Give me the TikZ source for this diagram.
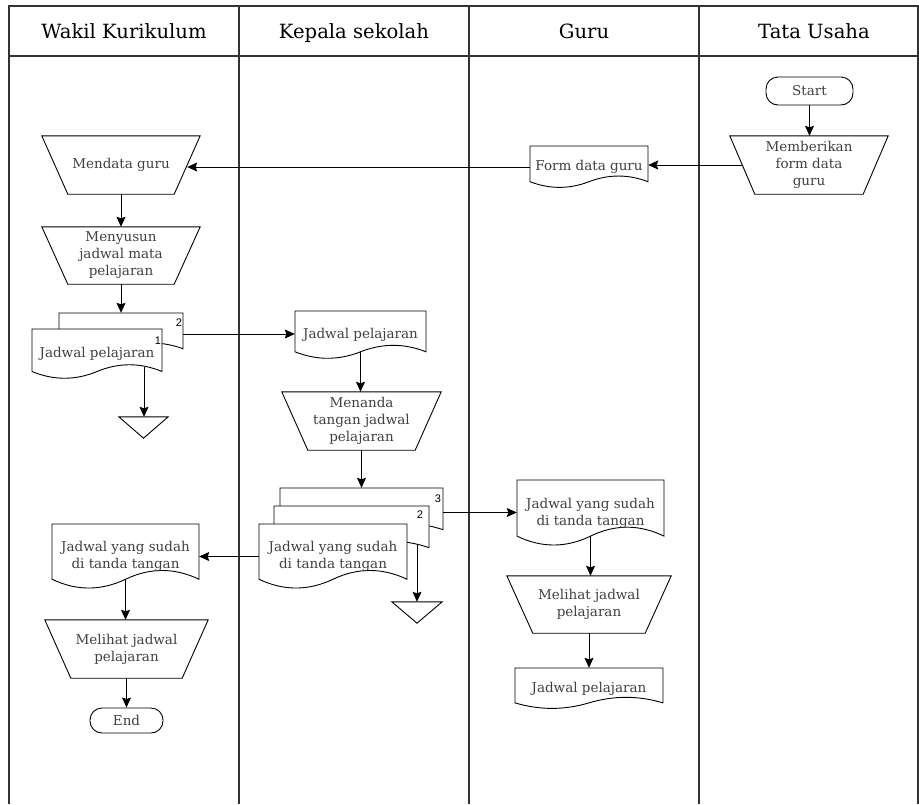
\documentclass[tikz,border=0pt]{standalone}
\usepackage{fontspec}
\setmainfont{DejaVu Serif}
\newfontfamily\numfont{Liberation Sans}
\usetikzlibrary{arrows.meta,calc}
\definecolor{txtgray}{HTML}{404040}
\definecolor{lanegray}{HTML}{333333}
\tikzset{
  outl/.style={draw=black,line width=0.9pt},
  lane/.style={draw=lanegray,line width=1.1pt},
  txt/.style={font=\fontsize{13.5}{17}\selectfont,text=txtgray,align=center,inner sep=0pt},
  hdr/.style={font=\fontsize{19.6}{22}\selectfont,text=black,anchor=base},
  numl/.style={font=\numfont\fontsize{11}{12}\selectfont,text=black,inner sep=0pt},
  arr/.style={draw=black,line width=0.9pt,-{Stealth[length=10pt,width=9pt,inset=1.5pt]}},
  termbox/.style={draw=black,line width=0.9pt,rounded corners=12pt,inner sep=0pt,font=\fontsize{13.5}{17}\selectfont,text=txtgray},
  plainbox/.style={inner sep=0pt}
}
% document shape: name, xleft, ytop, w, h, text
\newcommand\docu[6]{%
  \draw[outl,fill=white] (#2,#3) -- (#2+#4,#3) -- (#2+#4,#3+0.85*#5)
    .. controls (#2+0.8333*#4,#3+0.67*#5) and (#2+0.6667*#4,#3+0.67*#5) .. (#2+0.5*#4,#3+0.85*#5)
    .. controls (#2+0.3333*#4,#3+1.03*#5) and (#2+0.1667*#4,#3+1.03*#5) .. (#2,#3+0.85*#5) -- cycle;
  \node[txt,minimum width=#4,minimum height=#5] (#1) at (#2+0.5*#4,#3+0.5*#5) {#6};
  \coordinate (#1-b) at (#2+0.5*#4,#3+0.85*#5);
}
% manual operation trapezoid: name, cx, ytop, topw, h, inset, text
\newcommand\manop[7]{%
  \node[txt,minimum width=#4,minimum height=#5] (#1) at (#2,#3+0.5*#5) {#7};
  \draw[outl] (#1.north west) -- (#1.north east) -- ([xshift=-#6]#1.south east) -- ([xshift=#6]#1.south west) -- cycle;
  \coordinate (#1-r) at ([xshift=-#6/2]#1.east);
  \coordinate (#1-l) at ([xshift=#6/2]#1.west);
}
\begin{document}
\begin{tikzpicture}[x=1pt,y=-1pt]
\useasboundingbox (0,0) rectangle (919,804);
% lanes
\draw[lane] (9,804) -- (9,6) -- (918,6) -- (918,804);
\draw[lane] (9,56) -- (918,56);
\draw[lane] (239,6) -- (239,804);
\draw[lane] (469,6) -- (469,804);
\draw[lane] (699,6) -- (699,804);
\node[hdr] (h1) at (124,38) {Wakil Kurikulum};
\node[hdr] (h2) at (354,38) {Kepala sekolah};
\node[hdr] (h3) at (584,38) {Guru};
\node[hdr] (h4) at (814,38) {Tata Usaha};

% Tata Usaha
\node[termbox,minimum width=87,minimum height=28] (start) at (809.5,91) {Start};
\manop{memb}{809}{136}{158}{58}{25}{Memberikan\\form data\\guru}

% Guru
\docu{form}{530}{146}{118}{42}{Form data guru}

% Wakil
\manop{mendata}{121}{136}{158}{58}{26}{Mendata guru}
\manop{menyusun}{121}{227}{158}{57}{26}{Menyusun\\jadwal mata\\pelajaran}
\docu{wd2}{59}{313}{124}{42}{}
\node[numl] (wd2n) at (179,323) {2};
\docu{wd1}{32}{329}{130}{50}{Jadwal pelajaran}
\node[numl] (wd1n) at (158,341) {1};
\node[plainbox,minimum width=49,minimum height=21] (tri1) at (143.5,427.5) {};
\draw[outl] (tri1.north west) -- (tri1.north east) -- (tri1.south) -- cycle;
\coordinate (wd1-o) at (144,367);

% Kepala
\docu{kd}{295}{311}{131}{48}{Jadwal pelajaran}
\manop{menanda}{361.5}{392}{159}{58}{26}{Menanda\\tangan jadwal\\pelajaran}
\docu{kd3}{280}{488}{163}{49}{}
\node[numl] (kd3n) at (438,499) {3};
\docu{kd2}{274}{506}{155}{49}{}
\node[numl] (kd2n) at (420,515) {2};
\docu{kd1}{259}{524}{148}{65}{Jadwal yang sudah\\di tanda tangan}
\node[plainbox,minimum width=50,minimum height=21] (tri2) at (417,612.5) {};
\draw[outl] (tri2.north west) -- (tri2.north east) -- (tri2.south) -- cycle;
\coordinate (kd2-o) at (417,545);

% Guru lower
\docu{gd}{517}{480}{147}{66}{Jadwal yang sudah\\di tanda tangan}
\manop{gmel}{589}{576}{164}{57}{26}{Melihat jadwal\\pelajaran}
\docu{gjp}{515}{668}{148}{41}{Jadwal pelajaran}

% Wakil lower
\docu{wd}{52}{524}{147}{65}{Jadwal yang sudah\\di tanda tangan}
\manop{wmel}{126.5}{620}{163}{58}{26}{Melihat jadwal\\pelajaran}
\node[termbox,minimum width=73,minimum height=25] (end) at (126.5,720.5) {End};

% connectors
\draw[arr] (start.south) -- (start.south |- memb.north);
\draw[arr] (memb-l) -- (memb-l -| form.east);
\draw[arr] (form.west) -- (form.west -| mendata-r);
\draw[arr] (mendata.south) -- (menyusun.north);
\draw[arr] (menyusun.south) -- (menyusun.south |- wd2.north);
\draw[arr] (wd2.east) -- (wd2.east -| kd.west);
\draw[arr] (wd1-o) -- (wd1-o |- tri1.north);
\draw[arr] (kd-b) -- (kd-b |- menanda.north);
\draw[arr] (menanda.south) -- (menanda.south |- kd3.north);
\draw[arr] (kd3.east) -- (kd3.east -| gd.west);
\draw[arr] (kd1.west) -- (kd1.west -| wd.east);
\draw[arr] (kd2-o) -- (kd2-o |- tri2.north);
\draw[arr] (gd-b) -- (gd-b |- gmel.north);
\draw[arr] (gmel.south) -- (gmel.south |- gjp.north);
\draw[arr] (wd-b) -- (wd-b |- wmel.north);
\draw[arr] (wmel.south) -- (wmel.south |- end.north);
\end{tikzpicture}
\end{document}
